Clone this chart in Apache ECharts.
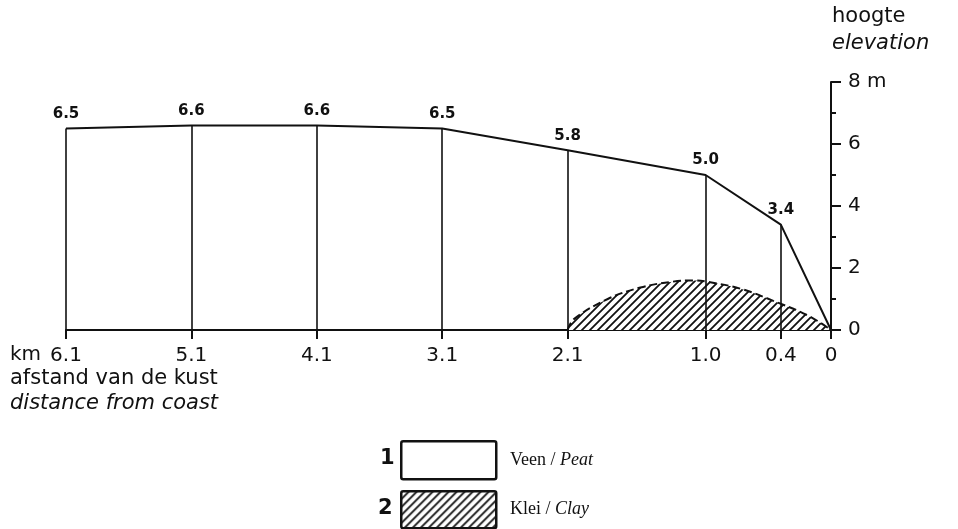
<!DOCTYPE html>
<html><head><meta charset="utf-8">
<script src="https://cdn.jsdelivr.net/npm/echarts@6/dist/echarts.min.js"></script>
<style>html,body{margin:0;padding:0;background:#fff}#c{width:958px;height:529px}</style>
</head><body><div id="c"></div>
<script>
// Surface profile (peat top): distance from coast (km) and elevation (m)
const distances = [6.1, 5.1, 4.1, 3.1, 2.1, 1.0, 0.4, 0];
const surface = [6.5, 6.6, 6.6, 6.5, 5.8, 5.0, 3.4, 0];
// Clay lens (top of clay)
const clayDist = [2.1, 2.05, 1.78, 1.52, 1.26, 1.1, 0.98, 0.72, 0.46, 0.18, 0];
const clayTop  = [0, 0.35, 1.0, 1.37, 1.56, 1.6, 1.55, 1.33, 0.94, 0.46, 0];
const xTicks = [6.1, 5.1, 4.1, 3.1, 2.1, 1.0, 0.4, 0];
const yTicks = [0, 2, 4, 6, 8];

const SANS = "'DejaVu Sans', sans-serif";

function hatch() {
  const s = 8, c = document.createElement('canvas');
  c.width = s; c.height = s;
  const g = c.getContext('2d');
  g.fillStyle = '#fff'; g.fillRect(0, 0, s, s);
  g.strokeStyle = '#111'; g.lineWidth = 1.8;
  g.beginPath();
  g.moveTo(-1, s + 1); g.lineTo(s + 1, -1);
  g.moveTo(-1, 1); g.lineTo(1, -1);
  g.moveTo(s - 1, s + 1); g.lineTo(s + 1, s - 1);
  g.stroke();
  return c;
}
const pat = hatch();

const chart = echarts.init(document.getElementById('c'), null, {renderer: 'canvas'});
const surfData = distances.map((d, i) => [d, surface[i]]);
const clayData = clayDist.map((d, i) => [d, clayTop[i]]);
const verticals = distances.map((d, i) => [{coord: [d, 0]}, {coord: [d, surface[i]]}]).filter(p => p[1].coord[1] > 0);

chart.setOption({
  animation: false,
  backgroundColor: '#fff',
  grid: {left: 66, right: 127, top: 82, bottom: 199},
  xAxis: {
    type: 'value', inverse: true, min: 0, max: 6.1,
    splitLine: {show: false},
    axisLine: {show: true, onZero: false, lineStyle: {color: '#111', width: 2}},
    axisTick: {show: true, customValues: xTicks, length: 9, lineStyle: {color: '#111', width: 2}},
    axisLabel: {show: true, customValues: xTicks, margin: 16, color: '#111', fontFamily: SANS, fontSize: 20,
      formatter: v => v === 0 ? '0' : v.toFixed(1)}
  },
  yAxis: {
    type: 'value', position: 'right', min: 0, max: 8, interval: 2,
    splitLine: {show: false},
    axisLine: {show: true, lineStyle: {color: '#111', width: 2}},
    axisTick: {show: true, length: 10, lineStyle: {color: '#111', width: 2}},
    minorTick: {show: true, splitNumber: 2, length: 5, lineStyle: {color: '#111', width: 2}},
    axisLabel: {margin: 17, color: '#111', fontFamily: SANS, fontSize: 20,
      formatter: v => v === 8 ? '8 m' : String(v)}
  },
  series: [
    {
      type: 'line', data: clayData, smooth: 0.4, symbol: 'none', z: 2,
      lineStyle: {color: '#111', width: 2, type: [8, 4]},
      areaStyle: {color: {image: pat, repeat: 'repeat'}, opacity: 1}
    },
    {
      type: 'line', data: surfData, symbol: 'circle', symbolSize: 0.1, showSymbol: true, z: 3,
      itemStyle: {color: '#111'},
      lineStyle: {color: '#111', width: 2},
      label: {show: true, position: 'top', distance: 7, color: '#111', fontFamily: SANS, fontWeight: 'bold', fontSize: 15,
        formatter: p => p.value[1] === 0 ? '' : p.value[1].toFixed(1)},
      markLine: {silent: true, symbol: 'none', label: {show: false},
        lineStyle: {color: '#111', width: 1.6, type: 'solid'}, data: verticals}
    }
  ],
  graphic: [
    {type: 'text', left: 832, top: 6, style: {text: 'hoogte', font: "500 21px 'DejaVu Sans'", fill: '#111'}},
    {type: 'text', left: 832, top: 33, style: {text: 'elevation', font: "italic 21px 'DejaVu Sans'", fill: '#111'}},
    {type: 'text', left: 10, top: 345, style: {text: 'km', font: "20px 'DejaVu Sans'", fill: '#111'}},
    {type: 'text', left: 10, top: 368, style: {text: 'afstand van de kust', font: "21px 'DejaVu Sans'", fill: '#111'}},
    {type: 'text', left: 10, top: 393, style: {text: 'distance from coast', font: "italic 21px 'DejaVu Sans'", fill: '#111'}},
    {type: 'rect', left: 400, top: 440, shape: {width: 95, height: 38, r: 2}, style: {fill: '#fff', stroke: '#111', lineWidth: 2.5}},
    {type: 'rect', left: 400, top: 490, shape: {width: 95, height: 37, r: 2}, style: {fill: {image: pat, repeat: 'repeat'}, stroke: '#111', lineWidth: 2.5}},
    {type: 'text', left: 380, top: 448, style: {text: '1', font: "bold 21px 'DejaVu Sans'", fill: '#111'}},
    {type: 'text', left: 378, top: 498, style: {text: '2', font: "bold 21px 'DejaVu Sans'", fill: '#111'}},
    {type: 'text', left: 510, top: 451, style: {text: 'Veen / {i|Peat}', font: "18px 'Liberation Serif'", fill: '#111',
      rich: {i: {fontStyle: 'italic', fontFamily: 'Liberation Serif', fontSize: 18, fill: '#111'}}}},
    {type: 'text', left: 510, top: 500, style: {text: 'Klei / {i|Clay}', font: "18px 'Liberation Serif'", fill: '#111',
      rich: {i: {fontStyle: 'italic', fontFamily: 'Liberation Serif', fontSize: 18, fill: '#111'}}}}
  ]
});
</script></body></html>
